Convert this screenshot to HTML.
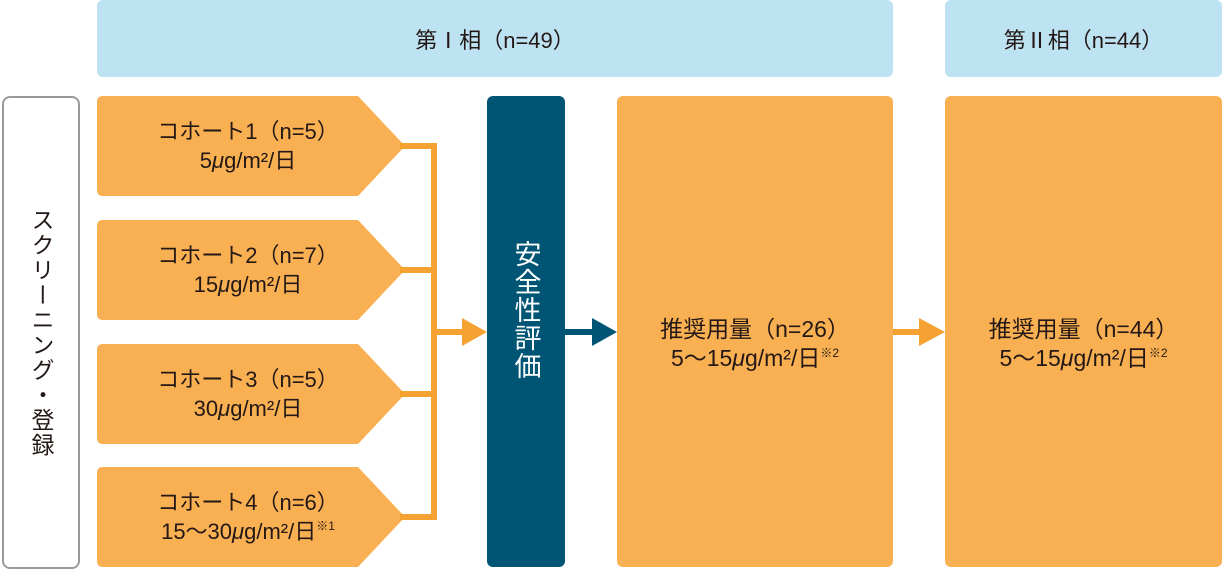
<!DOCTYPE html>
<html><head><meta charset="utf-8"><style>
body{margin:0;width:1223px;height:570px;background:#fff;position:relative;overflow:hidden;font-family:"Liberation Sans","Noto Sans CJK JP",sans-serif;color:#231815}
.a{position:absolute}
.ban{background:#bde3f3;border-radius:6px;top:0;height:77px;display:flex;align-items:center;justify-content:center;font-size:22px}
.big{background:#f9b052;border-radius:6px;top:96px;height:471px;text-align:center;font-size:23px;line-height:29px;box-sizing:border-box;padding-top:219px}
.c{left:97px;width:308px;height:100px;text-align:center;font-size:22px;line-height:29px;display:flex;flex-direction:column;justify-content:center;padding-right:6px;box-sizing:border-box}
sup{font-size:12px;vertical-align:9px;line-height:0}
</style></head><body>
<div class="a ban" style="left:97px;width:796px">第Ⅰ相（n=49）</div>
<div class="a ban" style="left:945px;width:277px">第Ⅱ相（n=44）</div>
<div class="a" style="left:2px;top:96px;width:74px;height:469px;border:2px solid #9a9a9a;border-radius:8px;writing-mode:vertical-rl;display:flex;align-items:center;justify-content:center;font-size:23px;letter-spacing:2px;box-sizing:content-box">スクリーニング・登録</div>
<svg class="a" style="left:0;top:0" width="1223" height="570">
<g fill="#f9b052">
<path d="M103 96H358L405 146L358 196H103Q97 196 97 190V102Q97 96 103 96Z"/>
<path d="M103 220H358L405 270L358 320H103Q97 320 97 314V226Q97 220 103 220Z"/>
<path d="M103 344H358L405 394L358 444H103Q97 444 97 438V350Q97 344 103 344Z"/>
<path d="M103 467H358L405 517L358 567H103Q97 567 97 561V473Q97 467 103 467Z"/>
</g>
<g stroke="#f5a233" stroke-width="6" fill="none">
<path d="M400 146H434V520M400 270H434M400 394H434M400 517H434M434 332H465"/>
</g>
<path d="M462 318L487 332L462 346Z" fill="#f5a233"/>
<rect x="487" y="96" width="78" height="471" rx="6" fill="#005574"/>
<path d="M565 332H595" stroke="#005574" stroke-width="6"/>
<path d="M592 318L617 332L592 346Z" fill="#005574"/>
<path d="M893 332H922" stroke="#f5a233" stroke-width="6"/>
<path d="M919 318L945 332L919 346Z" fill="#f5a233"/>
</svg>
<div class="a c" style="top:96px"><div>コホート1（n=5）</div><div>5<i>μ</i>g/m²/日</div></div>
<div class="a c" style="top:220px"><div>コホート2（n=7）</div><div>15<i>μ</i>g/m²/日</div></div>
<div class="a c" style="top:344px"><div>コホート3（n=5）</div><div>30<i>μ</i>g/m²/日</div></div>
<div class="a c" style="top:467px"><div>コホート4（n=6）</div><div>15〜30<i>μ</i>g/m²/日<sup>※1</sup></div></div>
<div class="a" style="left:487px;top:240px;width:78px;writing-mode:vertical-rl;display:flex;align-items:center;color:#fff;font-size:27px;letter-spacing:1px">安全性評価</div>
<div class="a big" style="left:617px;width:276px">推奨用量（n=26）<br>5〜15<i>μ</i>g/m²/日<sup>※2</sup></div>
<div class="a big" style="left:945px;width:277px">推奨用量（n=44）<br>5〜15<i>μ</i>g/m²/日<sup>※2</sup></div>
</body></html>
